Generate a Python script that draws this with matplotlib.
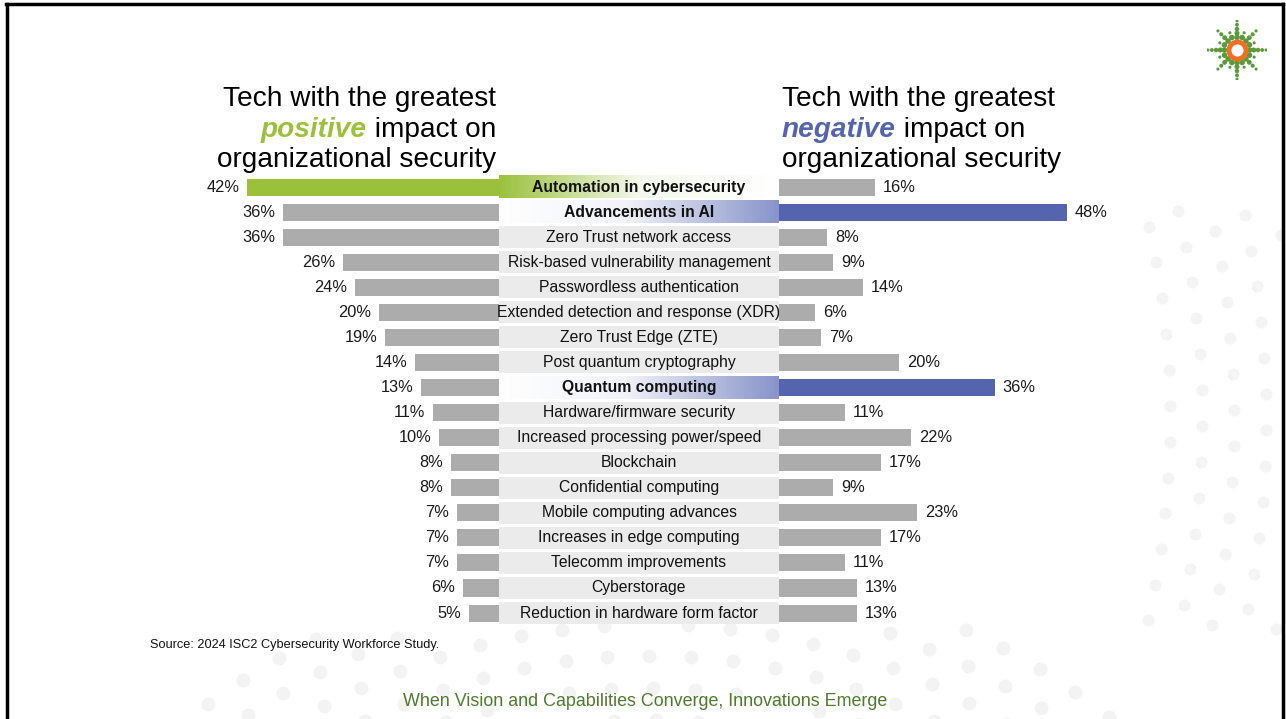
import numpy as np
import matplotlib
matplotlib.use("Agg")
import matplotlib.pyplot as plt
from matplotlib.colors import LinearSegmentedColormap

categories = [
    "Automation in cybersecurity", "Advancements in AI", "Zero Trust network access",
    "Risk-based vulnerability management", "Passwordless authentication",
    "Extended detection and response (XDR)", "Zero Trust Edge (ZTE)",
    "Post quantum cryptography", "Quantum computing", "Hardware/firmware security",
    "Increased processing power/speed", "Blockchain", "Confidential computing",
    "Mobile computing advances", "Increases in edge computing", "Telecomm improvements",
    "Cyberstorage", "Reduction in hardware form factor",
]
positive = [42, 36, 36, 26, 24, 20, 19, 14, 13, 11, 10, 8, 8, 7, 7, 7, 6, 5]
negative = [16, 48, 8, 9, 14, 6, 7, 20, 36, 11, 22, 17, 9, 23, 17, 11, 13, 13]
highlight_pos = ["Automation in cybersecurity"]
highlight_neg = ["Advancements in AI", "Quantum computing"]

GREEN = "#9bc13c"
BLUE = "#5464ae"
GRAY = "#acacac"
BOX = "#ebebeb"
FONT = ["Liberation Sans", "DejaVu Sans"]

W, H = 1286, 719
fig = plt.figure(figsize=(W / 100, H / 100), dpi=100)
fig.patch.set_facecolor("white")

def fx(px):
    return px / W

def fy(py):
    return 1 - py / H

# faint decorative background dots
axBg = fig.add_axes([0, 0, 1, 1], zorder=-5)
axBg.set_xlim(0, W)
axBg.set_ylim(H, 0)
axBg.axis("off")
cx_, cy_ = 650, 1310
for r in np.arange(590, 760, 32):
    angs = np.arange(np.pi * 1.05, np.pi * 1.95, 42 / r)
    xs = cx_ + r * np.cos(angs)
    ys = cy_ + r * np.sin(angs)
    m = (ys > 625) & (ys < 725)
    axBg.scatter(xs[m], ys[m], s=100, color="#f3f3f3", lw=0)
for r in np.arange(1120, 1300, 32):
    angs = np.arange(-0.55, 0.55, 40 / r)
    xs = -1000 + r * np.cos(angs) + 1050
    ys = 420 + r * np.sin(angs) * 0.9
    m = (xs > 1140) & (xs < 1282) & (ys > 200) & (ys < 640)
    axBg.scatter(xs[m], ys[m], s=75, color="#f4f4f4", lw=0)

n = len(categories)
top_px, step = 174.5, 25.06
bot_px = top_px + n * step
ppp = 6.0  # pixels per percent
ax_b, ax_h = fy(bot_px), (bot_px - top_px) / H

lx0, lx1 = 200, 499
axL = fig.add_axes([fx(lx0), ax_b, (lx1 - lx0) / W, ax_h])
axL.set_xlim((lx1 - lx0) / ppp, 0)
cx0, cx1 = 499, 779
axC = fig.add_axes([fx(cx0), ax_b, (cx1 - cx0) / W, ax_h])
rx0, rx1 = 779, 1160
axR = fig.add_axes([fx(rx0), ax_b, (rx1 - rx0) / W, ax_h])
axR.set_xlim(0, (rx1 - rx0) / ppp)

for a in (axL, axC, axR):
    a.set_ylim(n - 0.5, -0.5)
    a.axis("off")
    a.patch.set_alpha(0)

y = np.arange(n)
colsL = [GREEN if c in highlight_pos else GRAY for c in categories]
colsR = [BLUE if c in highlight_neg else GRAY for c in categories]
axL.barh(y, positive, height=0.68, color=colsL)
axR.barh(y, negative, height=0.68, color=colsR)

for i, v in enumerate(positive):
    axL.text(v + 1.3, i, f"{v}%", ha="right", va="center", fontsize=11.8, family=FONT, color="#1a1a1a")
for i, v in enumerate(negative):
    axR.text(v + 1.3, i, f"{v}%", ha="left", va="center", fontsize=11.8, family=FONT, color="#1a1a1a")

grad = np.linspace(0, 1, 256).reshape(1, -1)
cm_green = LinearSegmentedColormap.from_list("g", [(0, GREEN), (0.5, "#f4f8ec"), (1, "#ffffff")])
cm_blue = LinearSegmentedColormap.from_list("b", [(0, "#ffffff"), (0.45, "#f2f3f9"), (1, "#8893c9")])
bh = 0.88
for i, c in enumerate(categories):
    if c in highlight_pos:
        axC.imshow(grad, cmap=cm_green, aspect="auto", extent=(0, 1, i + bh / 2, i - bh / 2), zorder=1)
        bold = True
    elif c in highlight_neg:
        axC.imshow(grad, cmap=cm_blue, aspect="auto", extent=(0, 1, i + bh / 2, i - bh / 2), zorder=1)
        bold = True
    else:
        axC.barh(i, 1, left=0, height=bh, color=BOX, zorder=1)
        bold = False
    axC.text(0.5, i, c, ha="center", va="center", fontsize=11.3, family=FONT,
             fontweight="bold" if bold else "normal", color="#111111", zorder=3)
axC.set_xlim(0, 1)
axC.set_ylim(n - 0.5, -0.5)

# titles
tfs = 20.2
fig.text(fx(496), fy(99), "Tech with the greatest", ha="right", va="center", fontsize=tfs, family=FONT)
t2 = fig.text(fx(496), fy(130), " impact on", ha="right", va="center", fontsize=tfs, family=FONT)
fig.canvas.draw()
bb = t2.get_window_extent()
fig.text(bb.x0 / W, fy(130), "positive", ha="right", va="center", fontsize=tfs, family=FONT,
         color=GREEN, fontweight="bold", style="italic")
fig.text(fx(496), fy(160), "organizational security", ha="right", va="center", fontsize=tfs, family=FONT)

fig.text(fx(782), fy(99), "Tech with the greatest", ha="left", va="center", fontsize=tfs, family=FONT)
t3 = fig.text(fx(782), fy(130), "negative", ha="left", va="center", fontsize=tfs, family=FONT,
              color=BLUE, fontweight="bold", style="italic")
fig.canvas.draw()
bb = t3.get_window_extent()
fig.text(bb.x1 / W, fy(130), " impact on", ha="left", va="center", fontsize=tfs, family=FONT)
fig.text(fx(782), fy(160), "organizational security", ha="left", va="center", fontsize=tfs, family=FONT)

fig.text(fx(150), fy(645), "Source: 2024 ISC2 Cybersecurity Workforce Study.", ha="left", va="center",
         fontsize=9.2, family=FONT, color="#111111")
fig.text(fx(645), fy(702), "When Vision and Capabilities Converge, Innovations Emerge", ha="center",
         va="center", fontsize=12.9, family=FONT, color="#4f7b2c")

# logo
axLogo = fig.add_axes([fx(1207), fy(80), 60 / W, 60 / H])
axLogo.set_xlim(-1, 1)
axLogo.set_ylim(-1, 1)
axLogo.set_aspect("equal")
axLogo.axis("off")
for k in range(16):
    ang = k * np.pi / 8
    if k % 4 == 0:
        rs = np.array([0.42, 0.56, 0.70, 0.84, 0.97])
    elif k % 2 == 0:
        rs = np.array([0.42, 0.58, 0.74, 0.90])
    else:
        rs = np.array([0.45, 0.62])
    axLogo.scatter(rs * np.cos(ang), rs * np.sin(ang), s=np.linspace(16, 5, len(rs)), color="#5a9a3a", lw=0)
axLogo.scatter([0], [0], s=150, facecolor="white", edgecolor="#f07022", lw=3.5)

# border
fig.add_artist(plt.Line2D([fx(6), fx(1283)], [fy(3.5), fy(3.5)], color="black", lw=2.5))
fig.add_artist(plt.Line2D([fx(7), fx(7)], [fy(3.5), 0], color="black", lw=2.5))
fig.add_artist(plt.Line2D([fx(1283), fx(1283)], [fy(3.5), 0], color="black", lw=2.5))

fig.savefig("out.png", dpi=100, facecolor="white")
